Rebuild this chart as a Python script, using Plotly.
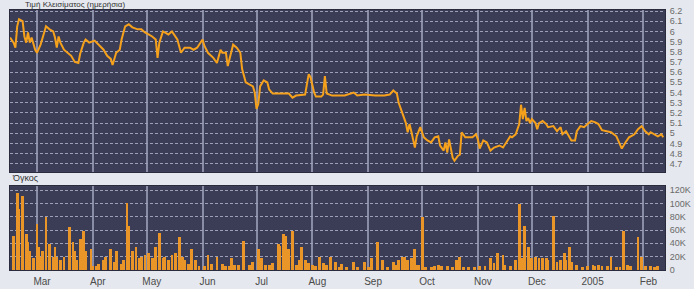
import plotly.graph_objects as go

# ---------------- data ----------------
price_dates = [
    "2004-02-15","2004-02-17","2004-02-18","2004-02-19","2004-02-20","2004-02-22","2004-02-23","2004-02-24",
    "2004-02-25","2004-02-26","2004-02-27","2004-02-29","2004-03-01","2004-03-03","2004-03-05","2004-03-06",
    "2004-03-08","2004-03-10","2004-03-11","2004-03-12","2004-03-13","2004-03-14","2004-03-16","2004-03-18",
    "2004-03-20","2004-03-22","2004-03-24","2004-03-25","2004-03-27","2004-03-28","2004-03-30","2004-04-02",
    "2004-04-04","2004-04-07","2004-04-09","2004-04-11","2004-04-12","2004-04-14","2004-04-16","2004-04-17",
    "2004-04-19","2004-04-21","2004-04-23","2004-04-26","2004-04-28","2004-04-30","2004-05-02","2004-05-04",
    "2004-05-06","2004-05-07","2004-05-08","2004-05-10","2004-05-11","2004-05-13","2004-05-15","2004-05-16",
    "2004-05-18","2004-05-20","2004-05-22","2004-05-25","2004-05-27","2004-05-29","2004-06-01","2004-06-02",
    "2004-06-04","2004-06-07","2004-06-09","2004-06-11","2004-06-12","2004-06-14","2004-06-15","2004-06-16",
    "2004-06-18","2004-06-20","2004-06-22","2004-06-23","2004-06-25","2004-06-27","2004-06-29","2004-06-30",
    "2004-07-01","2004-07-02","2004-07-03","2004-07-05","2004-07-07","2004-07-08","2004-07-10","2004-07-14",
    "2004-07-19","2004-07-21","2004-07-23","2004-07-28","2004-07-29","2004-07-30","2004-07-31","2004-08-02",
    "2004-08-03","2004-08-06","2004-08-07","2004-08-08","2004-08-09","2004-08-12","2004-08-19","2004-08-24",
    "2004-08-26","2004-08-30","2004-09-05","2004-09-10","2004-09-13","2004-09-15","2004-09-17","2004-09-18",
    "2004-09-20","2004-09-22","2004-09-23","2004-09-24","2004-09-25","2004-09-27","2004-09-28","2004-09-30",
    "2004-10-01","2004-10-02","2004-10-04","2004-10-06","2004-10-08","2004-10-10","2004-10-11","2004-10-13",
    "2004-10-14","2004-10-15","2004-10-16","2004-10-18","2004-10-19","2004-10-21","2004-10-22","2004-10-23",
    "2004-10-25","2004-10-29","2004-10-31","2004-11-01","2004-11-02","2004-11-04","2004-11-06","2004-11-08",
    "2004-11-10","2004-11-13","2004-11-15","2004-11-17","2004-11-19","2004-11-20","2004-11-22","2004-11-24",
    "2004-11-25","2004-11-26","2004-11-27","2004-11-28","2004-11-29","2004-11-30","2004-12-01","2004-12-03",
    "2004-12-04","2004-12-05","2004-12-07","2004-12-09","2004-12-10","2004-12-13","2004-12-15","2004-12-17",
    "2004-12-18","2004-12-20","2004-12-21","2004-12-23","2004-12-25","2004-12-26","2004-12-28","2004-12-30",
    "2005-01-01","2005-01-03","2005-01-05","2005-01-07","2005-01-09","2005-01-11","2005-01-14","2005-01-17",
    "2005-01-18","2005-01-20","2005-01-22","2005-01-24","2005-01-25","2005-01-27","2005-01-29","2005-01-31",
    "2005-02-02","2005-02-04","2005-02-05","2005-02-07","2005-02-09","2005-02-11","2005-02-12",
]
price_values = [
    5.94,5.89,5.84,6.05,6.12,6.10,5.95,5.89,
    5.99,5.89,5.94,5.82,5.79,5.87,5.99,6.05,
    6.02,6.00,5.94,5.84,5.95,5.89,5.82,5.79,
    5.76,5.70,5.69,5.78,5.89,5.92,5.89,5.91,
    5.87,5.82,5.76,5.73,5.67,5.79,5.82,5.92,
    6.05,6.07,6.04,6.02,6.02,5.99,5.97,5.95,
    5.92,5.74,5.89,6.00,5.99,5.97,6.00,5.97,
    5.92,5.79,5.84,5.84,5.82,5.84,5.92,5.86,
    5.79,5.74,5.69,5.82,5.79,5.79,5.66,5.73,
    5.87,5.84,5.79,5.63,5.50,5.48,5.46,5.40,
    5.24,5.29,5.46,5.52,5.50,5.43,5.39,5.39,
    5.39,5.35,5.37,5.38,5.50,5.58,5.55,5.40,
    5.36,5.36,5.38,5.56,5.39,5.37,5.37,5.40,
    5.37,5.38,5.37,5.37,5.38,5.42,5.39,5.30,
    5.20,5.10,5.01,5.09,5.02,4.86,4.97,5.06,
    5.01,4.96,4.93,4.91,4.96,4.97,4.88,4.83,
    4.91,4.81,4.94,4.76,4.73,4.78,4.79,5.01,
    4.96,4.96,4.99,4.94,4.85,4.93,4.91,4.83,
    4.86,4.88,4.86,4.91,4.97,4.96,4.99,5.09,
    5.28,5.14,5.25,5.12,5.15,5.10,5.14,5.10,
    5.04,5.10,5.12,5.09,5.06,5.07,5.02,5.06,
    4.99,5.02,4.99,4.93,4.93,5.02,5.07,5.06,
    5.09,5.12,5.11,5.09,5.03,5.02,5.01,4.97,
    4.93,4.85,4.91,4.96,4.97,4.99,5.04,5.07,
    5.02,4.99,5.01,4.99,4.97,4.99,4.96,
]

volume_dates = [
    "2004-02-17","2004-02-19","2004-02-20","2004-02-22","2004-02-24","2004-02-25","2004-02-26","2004-02-28",
    "2004-03-01","2004-03-02","2004-03-03","2004-03-04","2004-03-06","2004-03-08","2004-03-10","2004-03-11",
    "2004-03-12","2004-03-14","2004-03-16","2004-03-19","2004-03-21","2004-03-22","2004-03-23","2004-03-25",
    "2004-03-27","2004-03-28","2004-03-31","2004-04-01","2004-04-03","2004-04-04","2004-04-07","2004-04-08",
    "2004-04-11","2004-04-13","2004-04-14","2004-04-17","2004-04-18","2004-04-20","2004-04-21","2004-04-23",
    "2004-04-25","2004-04-27","2004-04-28","2004-04-30","2004-05-02","2004-05-04","2004-05-06","2004-05-08",
    "2004-05-10","2004-05-11","2004-05-13","2004-05-15","2004-05-17","2004-05-19","2004-05-21","2004-05-22",
    "2004-05-24","2004-05-26","2004-05-28","2004-05-30","2004-06-02","2004-06-04","2004-06-06","2004-06-09",
    "2004-06-12","2004-06-14","2004-06-16","2004-06-17","2004-06-19","2004-06-21","2004-06-24","2004-06-27",
    "2004-06-29","2004-07-02","2004-07-04","2004-07-06","2004-07-08","2004-07-10","2004-07-13","2004-07-14",
    "2004-07-16","2004-07-17","2004-07-19","2004-07-21","2004-07-23","2004-07-25","2004-07-26","2004-07-28",
    "2004-07-30","2004-08-01","2004-08-03","2004-08-05","2004-08-07","2004-08-09","2004-08-11","2004-08-14",
    "2004-08-16","2004-08-17","2004-08-20","2004-08-24","2004-08-26","2004-08-30","2004-09-01","2004-09-03",
    "2004-09-06","2004-09-09","2004-09-12","2004-09-15","2004-09-16","2004-09-18","2004-09-20","2004-09-21",
    "2004-09-23","2004-09-25","2004-09-27","2004-09-28","2004-09-29","2004-10-01","2004-10-03","2004-10-06",
    "2004-10-08","2004-10-10","2004-10-12","2004-10-15","2004-10-18","2004-10-20","2004-10-22","2004-10-24",
    "2004-10-27","2004-10-30","2004-11-02","2004-11-05","2004-11-08","2004-11-10","2004-11-12","2004-11-15",
    "2004-11-16","2004-11-19","2004-11-22","2004-11-24","2004-11-26","2004-11-27","2004-11-29","2004-12-01",
    "2004-12-03","2004-12-05","2004-12-07","2004-12-09","2004-12-10","2004-12-13","2004-12-15","2004-12-17",
    "2004-12-19","2004-12-20","2004-12-22","2004-12-23","2004-12-26","2004-12-29","2005-01-01","2005-01-04",
    "2005-01-05","2005-01-07","2005-01-09","2005-01-12","2005-01-14","2005-01-17","2005-01-19","2005-01-21",
    "2005-01-23","2005-01-25","2005-01-29","2005-01-31","2005-02-02","2005-02-05","2005-02-07","2005-02-09",
]
volume_values = [
    51000,116000,91000,111000,54000,42000,29000,18000,
    69000,35000,20000,28000,79000,39000,20000,35000,
    20000,15000,20000,64000,42000,29000,15000,47000,
    59000,29000,32000,6000,6000,9000,15000,20000,
    32000,12000,29000,9000,15000,101000,66000,29000,
    35000,18000,20000,23000,26000,18000,35000,56000,
    18000,20000,15000,23000,26000,49000,20000,15000,
    9000,32000,15000,6000,6000,23000,9000,20000,
    9000,6000,6000,18000,8000,8000,44000,8000,
    12000,32000,18000,8000,8000,10000,39000,36000,
    54000,51000,32000,59000,8000,15000,35000,15000,
    10000,8000,6000,20000,10000,8000,20000,12000,
    5000,9000,5000,12000,5000,12000,5000,18000,
    42000,15000,5000,12000,8000,15000,20000,20000,
    15000,18000,32000,8000,8000,79000,5000,5000,
    6000,8000,6000,6000,5000,15000,20000,5000,
    5000,5000,6000,6000,18000,10000,26000,23000,
    8000,6000,15000,99000,18000,66000,35000,18000,
    20000,18000,18000,18000,15000,81000,12000,15000,
    26000,15000,35000,12000,8000,5000,6000,8000,
    6000,8000,6000,6000,20000,5000,5000,59000,
    8000,6000,49000,20000,6000,6000,5000,6000,
]

month_starts = ["2004-03-01","2004-04-01","2004-05-01","2004-06-01","2004-07-01","2004-08-01",
                "2004-09-01","2004-10-01","2004-11-01","2004-12-01","2005-01-01","2005-02-01"]
month_labels = ["Mar","Apr","May","Jun","Jul","Aug","Sep","Oct","Nov","Dec","2005","Feb"]

price_ticks = [4.7,4.8,4.9,5.0,5.1,5.2,5.3,5.4,5.5,5.6,5.7,5.8,5.9,6.0,6.1,6.2]
price_tick_labels = ["4.7","4.8","4.9","5","5.1","5.2","5.3","5.4","5.5","5.6","5.7","5.8","5.9","6","6.1","6.2"]
volume_ticks = [0,20000,40000,60000,80000,100000,120000]
volume_tick_labels = ["0","20K","40K","60K","80K","100K","120K"]

title_text = "Τιμή Κλεισίματος (ημερήσια)"
volume_title = "Όγκος"

# ---------------- styling ----------------
PLOT_BG = "#3b3d57"
PAPER_BG = "#e5e8ee"
LINE_COLOR = "#f5a11c"
BAR_COLOR = "#e99528"
HGRID = "#9c9fb6"
VGRID = "#8a8da6"
FONT = "Liberation Sans"

fig = go.Figure()
fig.add_trace(go.Scatter(x=price_dates, y=price_values, mode="lines",
                         line=dict(color=LINE_COLOR, width=2),
                         xaxis="x", yaxis="y", showlegend=False, hoverinfo="skip"))
fig.add_trace(go.Bar(x=volume_dates, y=volume_values,
                     marker=dict(color=BAR_COLOR, line=dict(width=0)),
                     width=1.6 * 86400000,
                     xaxis="x2", yaxis="y2", showlegend=False, hoverinfo="skip"))

xcommon = dict(type="date", range=["2004-02-15", "2005-02-13"], autorange=False,
               tickvals=month_starts, ticktext=month_labels,
               showgrid=True, gridcolor=VGRID, gridwidth=1.5,
               zeroline=False, ticks="", showline=True, linecolor="#2a2b3d",
               linewidth=1, mirror=True, automargin=False)

fig.update_layout(
    width=694, height=289,
    margin=dict(l=10, r=29, t=10, b=19, autoexpand=False),
    paper_bgcolor=PAPER_BG, plot_bgcolor=PLOT_BG,
    font=dict(family=FONT, size=10, color="#555555"),
    bargap=0,
    xaxis=dict(**xcommon, anchor="y", showticklabels=False),
    xaxis2=dict(**xcommon, anchor="y2", showticklabels=True,
                tickfont=dict(size=10, color="#4a4a4a"), ticklabelshift=5,
                ticklabelstandoff=2),
    yaxis=dict(domain=[0.377, 1.0], range=[4.62, 6.21], side="right",
               tickvals=price_ticks, ticktext=price_tick_labels,
               tickfont=dict(size=9, color="#6a6a6a"),
               showgrid=True, gridcolor=HGRID, griddash="3px,2px", gridwidth=1,
               zeroline=False, ticks="", ticklabelstandoff=2, automargin=False,
               showline=True, linecolor="#2a2b3d", mirror=True),
    yaxis2=dict(domain=[0.0, 0.323], range=[0, 126000], side="right",
                tickvals=volume_ticks, ticktext=volume_tick_labels,
                tickfont=dict(size=9, color="#6a6a6a"),
                showgrid=True, gridcolor=HGRID, griddash="3px,2px", gridwidth=1,
                zeroline=False, ticks="", ticklabelstandoff=2, automargin=False,
                showline=True, linecolor="#2a2b3d", mirror=True),
    annotations=[
        dict(text=title_text, xref="paper", yref="paper", x=0.02, y=1.0,
             xanchor="left", yanchor="bottom", showarrow=False, yshift=-1,
             font=dict(size=8, color="#333333", family=FONT)),
        dict(text=volume_title, xref="paper", yref="paper", x=0.0, y=0.355,
             xanchor="left", yanchor="middle", showarrow=False,
             font=dict(size=9, color="#333333", family=FONT)),
    ],
)

fig.write_html("out.html",
               config={"displayModeBar": False},
               post_script="document.body.style.margin='0';document.body.style.padding='0';")
